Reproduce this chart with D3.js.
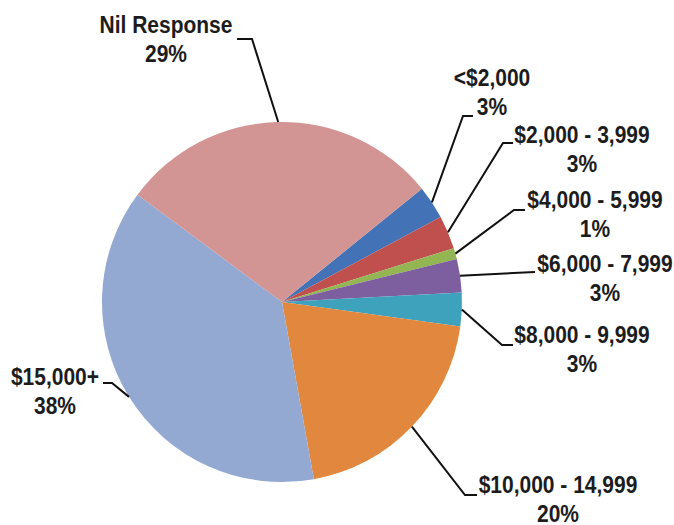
<!DOCTYPE html>
<html>
<head>
<meta charset="utf-8">
<script src="https://cdn.jsdelivr.net/npm/d3@7/dist/d3.min.js"></script>
<style>
  html, body { margin: 0; padding: 0; background: #fff; }
  svg { display: block; }
  .lbl { font-family: "Liberation Sans", Arial, sans-serif; font-weight: bold; font-size: 21px; fill: #1c1c1c; }
</style>
</head>
<body>
<svg id="chart" width="674" height="525"></svg>
<script>
// Income bands and their share of responses (percent)
const categories = ["<$2,000", "$2,000 - 3,999", "$4,000 - 5,999", "$6,000 - 7,999",
                    "$8,000 - 9,999", "$10,000 - 14,999", "$15,000+", "Nil Response"];
const shares = [3, 3, 1, 3, 3, 20, 38, 29];
const percentLabels = ["3%", "3%", "1%", "3%", "3%", "20%", "38%", "29%"];
const colors = ["#4372B6", "#C0504D", "#93B552", "#7D5FA0", "#3FA2BC", "#E2883E", "#93A9D2", "#D39594"];

// Label placement: text centre x, first baseline y, leader elbow and leader end
const labelLayout = [
  { x: 492, y: 86,  elbow: [463, 116], end: [473, 116] },
  { x: 582, y: 143, elbow: [503, 143], end: [513, 143] },
  { x: 595, y: 208, elbow: [514, 210], end: [525, 210] },
  { x: 605, y: 272, elbow: null,       end: [535, 272] },
  { x: 582, y: 343, elbow: [502, 345], end: [513, 345] },
  { x: 558, y: 493, elbow: [465, 495], end: [477, 495] },
  { x: 55,  y: 385, elbow: [112, 383], end: [103, 383] },
  { x: 166, y: 33,  elbow: [252, 39],  end: [237, 39] }
];

const cx = 282, cy = 302, radius = 180;
const startDeg = 51;
const toRad = d => d * Math.PI / 180;

const svg = d3.select("#chart");
const g = svg.append("g").attr("transform", `translate(${cx},${cy})`);

const data = categories.map((c, i) => ({ name: c, value: shares[i], pct: percentLabels[i], color: colors[i], layout: labelLayout[i] }));

const pie = d3.pie()
  .value(d => d.value)
  .sort(null)
  .startAngle(toRad(startDeg))
  .endAngle(toRad(startDeg + 360));

const arc = d3.arc().innerRadius(0).outerRadius(radius);
const arcs = pie(data);

g.selectAll("path.slice")
  .data(arcs)
  .join("path")
  .attr("class", "slice")
  .attr("d", arc)
  .attr("fill", d => d.data.color);

// Leader lines: from the slice's outer edge at its mid angle, via an elbow, to the label
const line = d3.line();
svg.selectAll("path.leader")
  .data(arcs)
  .join("path")
  .attr("class", "leader")
  .attr("fill", "none")
  .attr("stroke", "#111")
  .attr("stroke-width", 2)
  .attr("d", d => {
    const mid = (d.startAngle + d.endAngle) / 2;
    const p0 = [cx + radius * Math.sin(mid), cy - radius * Math.cos(mid)];
    const L = d.data.layout;
    const pts = L.elbow ? [p0, L.elbow, L.end] : [p0, L.end];
    return line(pts);
  });

// Two-line labels: category name and its percentage
const labels = svg.selectAll("g.label")
  .data(arcs)
  .join("g")
  .attr("class", "label");

labels.append("text")
  .attr("class", "lbl")
  .attr("text-anchor", "middle")
  .attr("transform", d => `translate(${d.data.layout.x},${d.data.layout.y}) scale(1,1.15)`)
  .text(d => d.data.name);

labels.append("text")
  .attr("class", "lbl")
  .attr("text-anchor", "middle")
  .attr("transform", d => `translate(${d.data.layout.x},${d.data.layout.y + 29}) scale(1,1.15)`)
  .text(d => d.data.pct);
</script>
</body>
</html>
